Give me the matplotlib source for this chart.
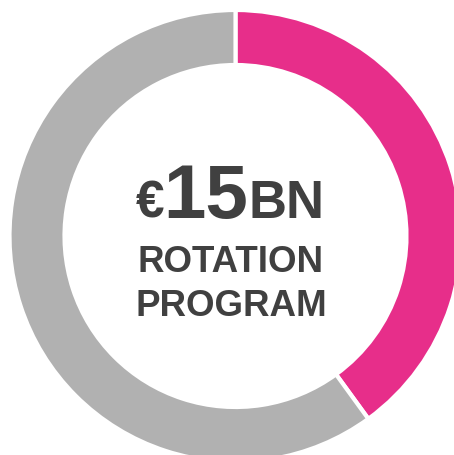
import matplotlib
matplotlib.use("Agg")
import matplotlib.pyplot as plt

labels = ["Rotation", "Other"]
values = [40, 60]
colors = ["#E72E8A", "#B1B1B1"]

W, H = 454, 455
cx, cy = 235.5, 236.0  # pixel center from top-left

fig = plt.figure(figsize=(W / 100, H / 100), dpi=100)
ax = fig.add_axes([0, 0, 1, 1])

ax.pie(values, colors=colors, startangle=90, counterclock=False,
       radius=226, center=(0, 0), frame=False,
       wedgeprops=dict(width=55, edgecolor="white", linewidth=3))
ax.set_xlim(-cx, W - cx)
ax.set_ylim(-(H - cy), cy)
ax.set_aspect("equal")
ax.axis("off")

font = ["Liberation Sans", "DejaVu Sans"]
tc = "#404040"

def X(px):
    return px - cx

def Y(py):
    return cy - py

kw = dict(fontweight="bold", color=tc, family=font, va="baseline", ha="center")
ax.text(X(150), Y(218), "€", fontsize=37, **kw)
ax.text(X(206), Y(218), "15", fontsize=55, **kw)
ax.text(X(286), Y(218), "BN", fontsize=38, **kw)

ax.text(X(231), Y(272), "ROTATION", fontsize=26.5, **kw)
ax.text(X(231), Y(316), "PROGRAM", fontsize=26.5, **kw)

fig.savefig("out.png", dpi=100)
